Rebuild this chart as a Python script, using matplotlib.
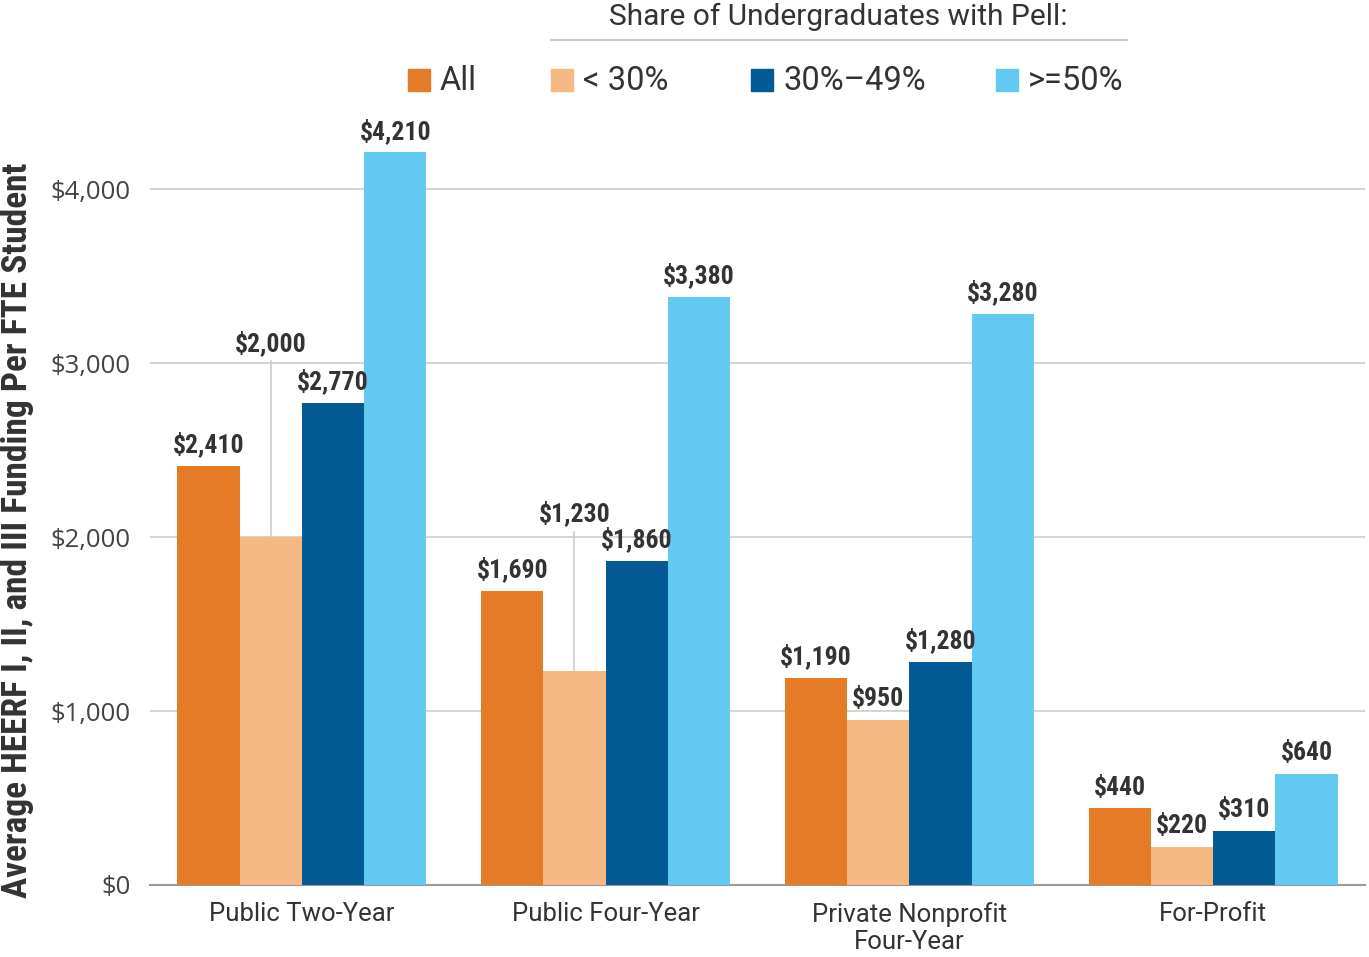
import matplotlib
matplotlib.use("Agg")
import matplotlib.pyplot as plt
from matplotlib.patches import Rectangle
from matplotlib.lines import Line2D
import numpy as np

categories = ["Public Two-Year", "Public Four-Year", "Private Nonprofit\nFour-Year", "For-Profit"]
series_names = ["All", "< 30%", "30%\u201349%", ">=50%"]
all_vals = [2410, 1690, 1190, 440]
lt30_vals = [2000, 1230, 950, 220]
mid_vals = [2770, 1860, 1280, 310]
ge50_vals = [4210, 3380, 3280, 640]
yticks = [0, 1000, 2000, 3000, 4000]
ytick_labels = ["$0", "$1,000", "$2,000", "$3,000", "$4,000"]
legend_title = "Share of Undergraduates with Pell:"
ylabel = "Average HEERF I, II, and III Funding Per FTE Student"
# raised label positions (with leader lines) for crowded labels: (series index, group index, label y)
raised = {(1, 0): 3040, (1, 1): 2060}

colors = ["#E57A27", "#F5BA84", "#035A95", "#62C9F2"]
series = [all_vals, lt30_vals, mid_vals, ge50_vals]

W, H = 1369, 957
fig = plt.figure(figsize=(W / 100, H / 100), dpi=100)
ax = fig.add_axes([150 / W, 1 - 885 / H, 1215 / W, 775 / H])

cond = ["Roboto Condensed", "Roboto", "DejaVu Sans"]
reg = ["Roboto", "DejaVu Sans"]
tickf = ["Open Sans", "DejaVu Sans"]

x = np.arange(len(categories))
bw = 0.205
for i, (vals, c) in enumerate(zip(series, colors)):
    xs = x + (i - 1.5) * bw
    ax.bar(xs, vals, width=bw, color=c, zorder=3)
    for j, (xx, v) in enumerate(zip(xs, vals)):
        label = f"${v:,}"
        if (i, j) in raised:
            ly = raised[(i, j)]
            ax.plot([xx, xx], [v, ly - 30], color="#cccccc", lw=1.2, zorder=2)
            ax.text(xx, ly, label, ha="center", va="bottom", fontsize=18.5,
                    fontweight="bold", family=cond, color="#333333", zorder=4)
        else:
            ax.text(xx, v + 50, label, ha="center", va="bottom", fontsize=18.5,
                    fontweight="bold", family=cond, color="#333333", zorder=4)

ax.set_xlim(-0.5, 3.5)
ax.set_ylim(0, 775 / 174 * 1000)
ax.set_yticks(yticks)
ax.set_yticklabels(ytick_labels, family=tickf, fontsize=18.5, color="#444444")
ax.set_xticks(x)
ax.set_xticklabels(categories, family=reg, fontsize=18.5, color="#333333", linespacing=1.2)
ax.tick_params(axis="x", length=0, pad=12)
ax.tick_params(axis="y", length=0, pad=14)
ax.grid(axis="y", color="#cccccc", lw=1.2, zorder=0)
for s in ["top", "right", "left"]:
    ax.spines[s].set_visible(False)
ax.spines["bottom"].set_color("#999999")
ax.spines["bottom"].set_linewidth(1.5)
ax.set_axisbelow(True)

fig.text(18 / W, 1 - 530 / H, ylabel, rotation=90, ha="center", va="center",
         fontsize=25.5, fontweight="bold", family=cond, color="#333333")

# legend header
fig.text(838 / W, 1 - 17 / H, legend_title, ha="center", va="center",
         fontsize=21.5, family=reg, color="#333333")
fig.add_artist(Line2D([551 / W, 1127 / W], [1 - 40 / H, 1 - 40 / H], color="#c8c8c8", lw=1.5))
leg_x = [408, 551, 751, 996]
for lx, name, c in zip(leg_x, series_names, colors):
    fig.add_artist(Rectangle((lx / W, 1 - 91 / H), 22 / W, 22 / H, color=c, transform=fig.transFigure))
    fig.text((lx + 32) / W, 1 - 81 / H, name, ha="left", va="center", fontsize=23.5,
             family=reg, color="#333333")

fig.savefig("out.png", dpi=100, facecolor="white")
